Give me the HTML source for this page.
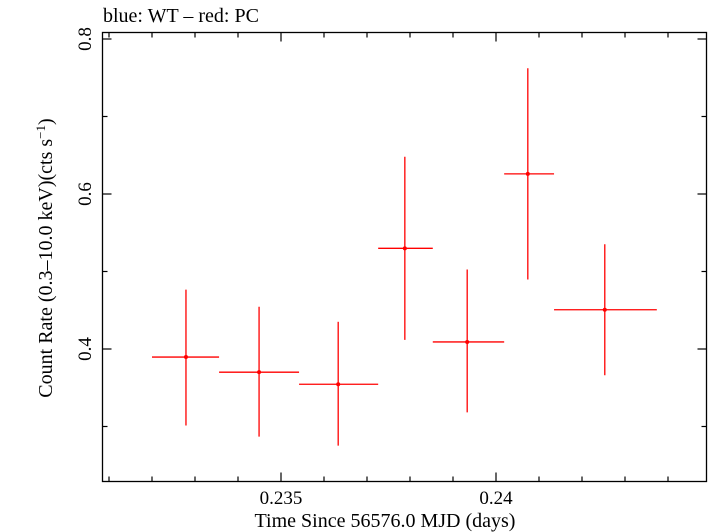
<!DOCTYPE html>
<html><head><meta charset="utf-8"><style>
body{margin:0;background:#fff;}
svg{display:block;font-family:"Liberation Serif",serif;}
</style></head><body>
<svg width="709" height="532" viewBox="0 0 709 532">
<text x="103" y="22" font-size="20">blue: WT – red: PC</text>
<rect x="102.5" y="32.5" width="604" height="449" fill="none" stroke="#000" stroke-width="1.3"/>
<g id="ticks"></g>
<g id="marks"></g>
<text x="385" y="527" font-size="20" text-anchor="middle">Time Since 56576.0 MJD (days)</text>
<text transform="translate(52,258) rotate(-90)" font-size="20" text-anchor="middle">Count Rate (0.3–10.0 keV)(cts s<tspan baseline-shift="super" font-size="13">−1</tspan>)</text>
</svg>
<script>
const times=[0.23279,0.23449,0.23633,0.23788,0.23933,0.24074,0.24253];
const tLo=[0.23200,0.23356,0.23542,0.23726,0.23853,0.24019,0.24135];
const tHi=[0.23356,0.23542,0.23726,0.23853,0.24019,0.24135,0.24374];
const rates=[0.3896,0.3701,0.3545,0.5299,0.4091,0.6260,0.4506];
const rateLo=[0.3013,0.2870,0.2753,0.4117,0.3182,0.4896,0.3662];
const rateHi=[0.4766,0.4545,0.4351,0.6481,0.5026,0.7623,0.5351];
const xTickLabels=["0.235","0.24"];
const xTickValues=[0.235,0.24];
const yTickLabels=["0.4","0.6","0.8"];
const yTickValues=[0.4,0.6,0.8];
const NS="http://www.w3.org/2000/svg";
const L=102.5,R=706.5,T=32.5,B=481.5;
function X(t){return 281+(t-0.235)*43000;}
function Y(v){return 349-(v-0.4)*775;}
function mk(tag,at,parent){const e=document.createElementNS(NS,tag);for(const k in at)e.setAttribute(k,at[k]);parent.appendChild(e);return e;}
const tg=document.getElementById('ticks');
for(let i=0;i<=14;i++){
  const t=0.231+i*0.001;const x=X(t);if(x<L||x>R)continue;
  const major=Math.abs(t-0.235)<1e-7||Math.abs(t-0.24)<1e-7;
  const len=major?9:5;
  const a=mk('line',{x1:x,x2:x,y1:B,y2:B-len,stroke:'#000','stroke-width':1.2},tg);
  
  
  const b=mk('line',{x1:x,x2:x,y1:T,y2:T+len,stroke:'#000','stroke-width':1.2},tg);
  
  
}
xTickValues.forEach((v,i)=>{
  const t=mk('text',{x:X(v),y:504,'font-size':19,'text-anchor':'middle'},tg);
  t.textContent=xTickLabels[i];
  
  
});
for(let i=3;i<=8;i++){
  const v=i/10;const y=Y(v);
  const major=(i%2===0);const len=major?9:5;
  const a=mk('line',{x1:L,x2:L+len,y1:y,y2:y,stroke:'#000','stroke-width':1.2},tg);
  
  
  const b=mk('line',{x1:R,x2:R-len,y1:y,y2:y,stroke:'#000','stroke-width':1.2},tg);
  
  
}
yTickValues.forEach((v,i)=>{
  const y=Y(v);
  const t=mk('text',{transform:`translate(91,${y}) rotate(-90)`,'font-size':19,'text-anchor':'middle'},tg);
  t.textContent=yTickLabels[i];
  
  
});
const mg=document.getElementById('marks');
times.forEach((t,i)=>{
  const g=mk('g',{},mg);
  
  
  mk('line',{x1:X(tLo[i]),x2:X(tHi[i]),y1:Y(rates[i]),y2:Y(rates[i]),stroke:'#f00','stroke-width':1.3},g);
  mk('line',{x1:X(t),x2:X(t),y1:Y(rateLo[i]),y2:Y(rateHi[i]),stroke:'#f00','stroke-width':1.3},g);
  mk('circle',{cx:X(t),cy:Y(rates[i]),r:2,fill:'#f00'},g);
});
</script>
</body></html>
